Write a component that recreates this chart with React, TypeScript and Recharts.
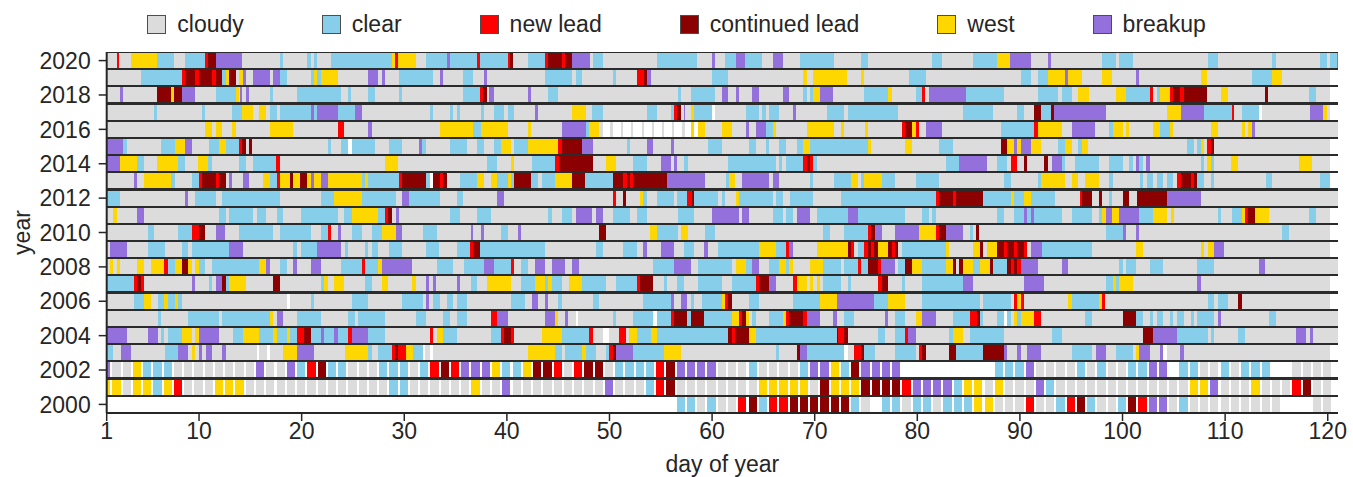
import React from "react";
import { BarChart, Bar, XAxis, YAxis, Cell, CartesianGrid, Legend, Label } from "recharts";

const FONT = '"Liberation Sans", Arial, Helvetica, sans-serif';
const INK = "#262626";

const CAT_KEYS = ["g", "b", "r", "d", "y", "p"];
const CAT_LABELS = ["cloudy", "clear", "new lead", "continued lead", "west", "breakup"];
const CAT_FILLS: Record<string, string> = {
  g: "#dcdcdc",
  b: "#87ceeb",
  r: "#ff0000",
  d: "#8b0000",
  y: "#ffd700",
  p: "#9370db",
  w: "#ffffff",
  n: "none",
};

const YEARS = [2020, 2019, 2018, 2017, 2016, 2015, 2014, 2013, 2012, 2011, 2010,
  2009, 2008, 2007, 2006, 2005, 2004, 2003, 2002, 2001, 2000];
const DAY_TICKS = [1, 10, 20, 30, 40, 50, 60, 70, 80, 90, 100, 110, 120];
const DAY_START = 1;
const DAY_END = 121;

// 2003-2020: letter = state, number = day it starts (runs to the next one)
const OBS_2020 = "g1 r1.97 g2.23 y3.34 b5.94 g7.56 b8.63 r10.58 d10.91 p11.62 g14.22 b17.89 g18.15 b20.49 g20.88 b21.2 g21.53 b22.86 y28.78 r29.1 y29.43 g31.12 b32.12 p34.14 b34.46 r37.06 b37.39 r40.08 d40.31 g40.64 b42.03 r43.72 d44.05 r45.35 d45.67 p46.39 g48.11 b48.37 g49.34 b54.61 g58.57 p59.97 g60.29 b61.27 p62.31 b63.22 g64.91 p65.91 g66.89 b68.58 g71.89 b74.51 g75.16 b81.47 g82.44 b85.4 y87.74 p89.04 g91.05 p92.71 g93.03 b98.04 g99.34 b99.69 g100.99 b108.3 g109.28 b114.61 g114.93 b119.25 g119.9 b120.23 p120.88";
const OBS_2019 = "g1 b4.31 r8.31 d8.63 r9.61 d9.99 r11.3 d11.62 b12.21 y12.6 d12.92 g13.6 y13.86 p14.25 g14.54 p15.23 g16.92 p17.24 b17.89 g18.54 b20.91 y21.17 b21.53 y21.85 g23.51 p26.5 g27.48 p27.87 g28.13 b29.49 g32.77 p33.49 g33.75 b35.76 g36.74 p37.81 g38.1 b43.72 g46.39 b46.71 g47.36 b50.32 g50.64 r52.66 d53.37 p53.7 g54.02 b59.97 g61.59 y68.9 g69.23 y69.88 g73.18 y74.51 g74.84 b79.19 g80.82 b90.08 g91.05 b91.8 y92.77 p94.4 y94.72 g96.02 y98.04 g99.01 p101.32 g101.64 y107.65 g108.27 b112.66 y114.61 g115.58 w120.23";
const OBS_2018 = "g1 p2.3 g2.62 d5.94 y7.24 d7.56 p8.31 g9.61 b11.62 y13.57 g13.9 p14.0 g14.22 p14.54 g14.87 b16.92 g17.24 b19.52 g23.84 b24.49 g24.81 b26.5 g27.15 b29.49 g29.82 b35.76 r37.39 d37.71 g38.04 p38.27 g38.75 p42.03 g42.36 b44.05 g45.02 b56.65 g56.95 b57.95 g60.29 p60.94 g61.59 p62.31 g62.63 p63.93 g64.58 p66.89 g67.54 b68.9 g69.23 b69.55 y69.88 p70.53 g71.83 b74.84 y77.18 g77.5 b79.84 r80.49 g80.75 p81.14 b84.75 g88.45 b91.8 g93.75 b94.07 g95.05 y95.7 g96.74 y99.34 b100.34 r102.68 g103.01 b103.33 y103.66 r104.63 d104.96 r105.61 d106 g108.27 y109.6 g110.25 d113.89 g114.22 b118.21 g118.86 w120.23";
const OBS_2017 = "g1 b5.61 g5.94 b10.32 g10.58 b13.25 y14.22 g15.23 y15.88 g16.49 b16.92 g17.57 b17.89 p20.91 b21.2 p21.53 b23.51 p25.2 g25.85 b32.51 g32.77 b34.46 g34.79 b35.11 g35.44 b37.45 g37.78 b38.75 g39.73 b40.08 g40.73 p42.75 g43.07 y46.39 g47.69 b48.34 g49.34 b53.7 g54.61 b56.0 r56.3 d56.62 g56.95 p57.27 g57.37 y57.95 b58.28 w59.97 g60.29 b63.28 g64.58 b64.91 g65.23 b65.59 g66.56 p67.86 g68.19 b71.24 g72.89 b73.21 g78.15 b84.42 g87.41 b89.75 g90.4 d91.41 b92.06 d93.03 p93.36 g98.36 y104.37 p105.67 b107.95 r110.64 g110.9 b111.62 w113.31 g113.57 p118.28 y119.58 g119.9 w120.23";
const OBS_2016 = "g1 y10.58 g11.3 y11.62 g12.27 y13.25 g13.57 y16.92 g19.19 r23.51 g24.16 p26.5 g26.83 y33.49 b36.74 y37.45 g40.08 y42.03 g42.36 p45.35 b47.69 y48.01 g49.02 w49.34 g50.06 w50.32 g51.1 w51.36 g52.07 w52.33 g53.15 w53.37 g54.12 w54.35 g55.1 w55.32 g56.07 w56.3 g57.11 w57.37 y57.95 w58.28 y58.6 g59.32 y60.94 g61.92 p63.28 g63.61 p64.26 b65.23 y65.91 g66.21 y69.23 g71.89 y72.56 g72.89 y74.9 g75.23 r78.48 d78.8 y79.52 r79.84 g80.17 p80.82 g82.44 b88.13 r91.41 y91.73 g94.07 p95.05 g97.32 b98.72 y99.04 g100.02 y100.34 g100.67 y103.01 b103.66 y104.63 g104.96 y108.63 g109.28 y111.62 g111.94 y112.27 p112.59 g112.92";
const OBS_2015 = "p1 b2.62 g2.95 b6.29 y7.66 p8.63 g9.28 b10.97 y11.95 b12.6 r13.9 d14.22 g14.54 d14.87 g15.2 b22.54 g22.86 b23.84 w24.49 b24.88 g27.15 b28.52 g29.82 p31.44 b31.77 g32.12 b34.46 g36.09 b37.13 g37.78 b38.75 y39.4 g40.38 b40.73 y42.03 r45.02 d45.35 p47.36 g48.37 b51.68 g52.01 p53.7 g54.28 p56.0 g56.3 b59.64 g60.94 b63.61 g64.26 b65.23 g65.56 b66.56 g67.21 b68.25 y68.9 b69.55 y75.16 g75.49 y78.8 g79.45 b82.12 g83.45 d88.13 y88.78 p89.43 y89.75 p90.08 y91.05 g92.03 b93.75 y94.4 g95.05 b95.7 y96.02 g96.67 b106.32 g106.97 b107.3 y107.62 g107.95 r108.27 d108.6 g108.92 w120.23";
const OBS_2014 = "p1 y2.3 b3.99 g4.64 y5.94 b7.92 g8.63 y9.93 b10.91 g11.3 b13.93 g14.54 b15.23 r17.5 g17.89 y28.13 g29.43 b38.1 g39.08 y40.38 g40.7 b42.42 r44.7 d45.09 g48.37 y49.67 g50.64 b52.33 g53.7 p55.0 g55.97 p56.3 g56.62 b57.3 g57.63 b61.59 g66.21 b66.53 g66.86 b67.21 r68.9 d69.23 r69.55 b69.88 g70.2 b82.8 p84.1 g86.76 b87.8 g88.78 r89.1 g89.75 d90.4 g90.73 d92.38 g92.71 p93.1 b94.07 g94.4 b95.37 g97.71 b98.72 g100.02 b100.67 g100.99 p101.32 b101.64 g101.97 p102.29 g102.68 b107.62 g107.95 y108.27 b108.6 g108.92 y110.58 g111.23 y117.2 g118.5 w120.23";
const OBS_2013 = "g1 p3.66 g3.99 y4.64 b7.27 g7.66 b9.28 r9.99 d10.32 r11.62 d11.95 g12.6 p12.92 g13.25 p14.25 g14.9 y16.2 b16.92 r17.57 y17.89 d18.87 y19.19 d19.84 y20.55 p20.88 y21.2 p21.85 y22.54 b25.85 y26.18 b26.5 r29.49 d29.82 b32.12 w32.51 d32.84 r33.49 d33.81 g34.14 b35.44 y37.06 g37.78 y38.43 b39.08 y40.08 b40.38 d40.73 b42.36 g43.01 b43.4 y44.7 d46.39 b47.62 d50.38 r51.36 d51.68 r52.01 d52.33 p55.65 g59.32 b61.33 y61.66 g62.24 p62.96 g65.59 p65.91 g66.56 b69.55 g69.88 b71.89 y73.54 g74.19 b74.51 y74.84 b76.53 g77.83 b79.84 g82.12 b88.45 g89.1 b91.8 y92.06 g94.4 y95.05 g95.7 y96.35 g97.71 b98.72 g99.04 b101.71 g102.03 b102.36 g103.01 b103.33 g103.98 b104.31 g104.96 r105.35 d105.67 r106.65 d106.97 b107.3 g107.95 b108.6 g108.92 b113.96 g114.61 b119.25 w120.23";
const OBS_2012 = "b1 g2.3 p8.63 g8.96 b9.61 g11.62 b12.27 g17.89 b21.89 y23.19 b25.85 g29.17 p29.82 b30.47 g33.49 b35.11 g35.76 p39.08 g39.73 r50.38 g50.64 d51.36 g51.62 y52.98 b53.31 g53.63 b54.61 g56.3 b56.62 r57.6 d58.02 b58.28 g60.62 b60.94 g61.27 y62.31 b62.63 g65.91 b66.24 g66.89 b67.6 g69.88 b72.56 r81.82 d82.15 r83.45 d83.77 b86.44 y89.1 b89.43 y90.43 b91.08 g93.42 r95.9 d96.09 g97.06 d97.71 g98.04 b98.72 g99.01 d100.02 g100.67 d101.38 p104.37 g107.62";
const OBS_2011 = "g1 y1.65 g1.97 p3.99 g4.64 b11.95 g12.6 b12.92 g15.23 b15.62 g16.53 b17.57 g18.22 b19.91 g23.51 b24.16 y24.88 b27.48 r28.13 d28.39 g28.78 p29.17 g29.49 b34.46 g35.44 b37.13 g38.43 b44.05 g44.37 b45.35 g46.39 p46.71 g48.34 p48.7 g49.34 b50.38 g52.01 b52.66 g53.63 b56.65 g58.28 p59.97 g62.63 p62.96 g63.61 b65.91 g66.89 b67.21 g67.93 p68.25 g69.55 b70.2 p73.21 b74.19 g78.8 b80.49 g81.14 b81.47 g81.79 b87.8 g88.45 b89.43 p90.4 b90.73 p91.05 b91.38 g94.07 b95.05 g97.06 b97.71 y98.04 p98.36 y99.01 p99.66 b101.64 y103.01 g104.37 y104.7 g105.02 b109.28 g109.6 b110.64 y111.62 r111.94 d112.27 y112.92 g114.28 b118.21 g118.86 w120.23";
const OBS_2010 = "g1 b4.99 g5.64 b7.98 r9.28 d9.99 g10.58 p11.62 g12.53 b13.93 g17.24 b17.89 g20.91 b21.89 r22.54 g22.86 p23.51 g23.84 b24.88 g25.85 b26.83 y27.87 p29.17 g29.82 b31.8 g33.16 p36.48 g36.74 p37.45 g37.78 b39.4 g40.08 p41.06 g41.38 d49.02 g49.67 y53.96 b54.61 g56.65 y56.98 g57.63 b59.32 g60.29 b70.85 g71.5 b72.89 r75.16 d75.49 p75.88 g76.53 p77.83 y80.17 r81.82 d82.15 p82.8 g84.42 b85.14 g85.4 d85.72 g86.05 b98.39 p100.02 g100.34 p101.32 g101.64 b115.58 g116.23 w120.23";
const OBS_2009 = "g1 p1.32 g3.01 b4.99 g6.68 b8.31 g8.96 b9.28 p12.92 g14.25 b19.19 g19.52 b19.91 p21.53 g23.84 b24.23 g24.49 b26.18 g26.5 b26.83 g27.48 b28.52 g29.82 b32.12 g33.42 b35.11 r36.41 d36.74 b37.39 g43.72 b48.7 g49.34 b51.36 g52.66 p53.31 g53.63 p55.0 g56.3 b57.3 g58.28 p59.25 g59.58 b60.62 y64.58 b66.21 r67.21 p67.54 g67.93 y70.2 d73.21 r73.54 g73.86 b74.19 r74.84 d75.16 r75.49 d75.81 y76.14 d77.18 r77.5 d77.83 g78.15 b78.48 y82.8 g83.12 y85.4 d86.11 g86.44 y86.76 d87.8 r88.45 d88.78 r89.43 d89.75 r90.4 g90.73 p91.05 b92.12 g97.06 y101.32 g101.97 y107.65 g107.95 y108.3 p108.95 g109.93 w120.23";
const OBS_2008 = "g1 y1.32 g1.65 y1.97 g2.3 y3.99 g4.64 y5.32 r6.62 b6.94 y7.66 d8.31 y8.96 g9.28 y9.61 b9.99 g10.58 b11.3 y15.88 p16.53 g16.92 b17.89 g18.54 p19.19 g19.52 p20.91 g21.89 b23.84 r25.85 b26.18 y27.48 p27.8 g30.79 b33.16 g34.79 b35.83 p37.78 b38.75 r40.41 g40.73 b41.38 g42.03 p42.75 g43.72 p44.37 g45.67 p46.39 g47.04 b54.28 p56.3 g57.95 b58.67 g61.98 y62.31 b63.28 p63.93 g64.58 b65.59 y66.56 b67.21 y67.54 g67.93 y69.55 b70.85 g72.56 b72.89 r74.19 b74.51 d75.16 r76.14 p76.46 g77.83 b78.15 d78.8 y79.52 b80.49 y82.8 d83.45 g83.77 d84.1 y84.42 b85.4 y86.11 d87.09 b87.41 d88.78 r89.1 d89.43 r89.75 p90.08 g91.73 p94.07 g94.72 b99.69 g100.02 b100.34 g101.32 b102.68 g103.98 b107.3 g108.95 p113.31 g113.89";
const OBS_2007 = "b1 r3.66 d3.99 r4.31 g4.64 p9.28 g9.61 b10.97 g11.3 p11.62 d12.27 b12.6 y12.92 g14.54 d17.24 g17.89 b21.89 y22.21 g22.54 y23.19 g24.16 b26.18 g26.83 y27.87 g28.45 y30.79 g31.12 p32.12 g32.45 p32.77 g33.1 p35.11 g35.44 b36.48 g37.13 y38.1 g40.38 b41.38 y42.75 b43.72 y44.05 b44.37 g45.35 y46.06 b47.36 g49.67 b50.64 r52.66 d52.98 g54.28 b55.32 g55.65 b56.62 g57.3 b58.6 g60.94 b61.98 r64.26 d64.58 p65.59 g66.24 r67.93 y68.25 g69.23 y69.55 g69.88 y70.2 g70.53 b70.85 g72.56 b73.21 g73.54 r76.2 d76.53 g77.18 b78.48 g78.8 b80.49 p84.49 g85.4 p90.43 g92.38 b98.39 y99.04 b99.37 y99.69 g100.99 p107.3 g107.62 w120.23";
const OBS_2006 = "g1 b3.66 y4.64 g5.32 b5.97 y6.62 b6.94 y7.66 b7.98 g8.31 w18.54 g18.87 b20.91 g21.2 b24.88 g26.5 b29.82 g31.8 p32.12 g32.45 b32.84 g33.49 b34.14 g34.79 b35.11 g36.09 b40.41 g41.77 p42.42 g43.07 p43.72 g44.05 b45.02 g45.35 b48.37 g49.02 b53.31 p55.97 g56.3 p56.95 g57.6 b57.95 g58.28 b58.99 y60.94 r61.27 d61.59 g61.92 b63.61 g64.58 b67.93 y70.53 p72.15 b75.81 y77.18 g78.8 b80.49 g86.11 b86.44 g89.1 r89.43 y89.75 r90.08 g90.4 y94.72 b95.05 y97.71 r97.97 g98.3 b108.3 g108.95 b109.28 g110.25 d111.29 g111.62 w120.23";
const OBS_2005 = "g1 b5.97 g6.29 b8.96 g11.95 b12.27 y16.92 g17.24 p17.57 g18.22 b19.58 g21.89 b24.55 g25.2 b25.53 g28.13 b31.15 g32.12 b33.81 g34.46 b35.11 g36.09 r38.43 p39.08 g40.08 p43.72 y44.7 g45.02 p45.67 g46.0 w46.71 g46.97 b50.38 g50.64 b52.33 w54.28 b54.61 r55.97 d56.3 b57.6 d57.92 b59.25 y61.92 r62.63 d62.96 y63.28 g63.61 b63.93 g64.26 b65.59 y66.89 r67.21 d67.54 r68.9 p69.23 g70.53 p71.83 g72.15 b72.89 g73.86 p76.85 g77.18 b77.83 g78.8 y79.84 p80.49 g81.82 b83.51 r85.14 d85.79 b86.11 g86.44 b87.8 w88.45 b88.78 g89.1 y89.43 b89.75 y90.08 r91.38 g92.06 b96.35 g97.06 d100.02 b101.32 g101.97 b102.68 g103.01 b103.33 g103.98 b104.63 g104.96 b105.28 g106.0 b106.65 g106.97 b107.3 g108.95 p109.28 g109.6 b114.28 g114.93";
const OBS_2004 = "p1 g3.01 p4.99 g5.97 b6.29 g6.62 b7.01 y8.31 g9.28 y9.61 p9.99 g11.95 b13.28 y14.25 b15.88 y17.24 b17.57 y18.54 b18.87 r19.58 d20.23 b20.88 p21.89 b22.21 p23.19 b23.51 r24.49 p24.88 b26.5 g28.13 r32.51 g32.84 y33.16 b33.81 g35.11 b38.43 r39.43 d39.76 r40.41 g40.73 y43.4 b45.41 r48.01 g48.37 w49.34 g50.0 r50.97 g51.62 y51.94 b52.66 y54.02 b54.61 d61.59 r61.92 d62.24 y63.61 b64.26 d72.15 r72.3 d72.89 g73.21 b76.2 g76.85 b77.83 r78.8 p79.13 g79.84 b83.12 y83.45 g84.42 b85.14 g88.45 b93.1 g94.07 d102.03 p103.01 b105.28 g108.3 b108.63 g108.95 b111.29 g111.94 p116.91 g117.89 p118.28 g118.54";
const OBS_2003 = "g1 b1.16 g1.65 p2.36 g3.34 b6.68 p7.98 g8.96 y9.28 g9.61 p9.99 g10.32 p10.65 g11.3 p12.27 g12.6 w15.62 g15.88 w16.59 g16.92 y18.22 p19.58 g21.2 y24.23 b26.5 g26.83 b27.48 r28.78 d29.1 r29.43 y30.14 b30.83 w31.8 g32.03 w32.51 g32.77 y42.1 b44.7 g45.35 b45.67 y47.36 b47.69 g48.7 b49.67 r50.0 d50.32 p50.64 b52.33 y55.32 g56.98 b66.24 g66.56 d68.25 p68.58 b69.23 w72.89 g73.21 r73.86 d74.51 b74.84 g75.88 b77.83 g79.84 r80.17 d80.49 g80.82 d83.12 b83.77 d86.44 p88.45 g88.78 p89.75 g90.08 p90.73 g92.06 b95.05 g97.06 p97.39 g98.36 b99.34 g100.99 y101.32 p101.64 g102.68 p103.66 w103.98 g104.31 p105.61 g106.0 w120.23";

// 2000-2002: one letter per day (days 1..121), sparse passes
const DAILY_2002 = "pggybbbggg" + "gggggpggpb" + "rdbbgggbbb" + "gbrdrpppyb" + "byddrgrddg" + "bbbbrdpppp" + "gggbggggbp" + "pybdppppww" + "wwwwwwwbbb" + "pggggbgbgg" + "bbppwbbggb" + "gbbbwwggggw";
const DAILY_2001 = "yygyybyrgg" + "gyyygggggg" + "ggggggggbb" + "ggggggyggp" + "gggggggggp" + "gggbrdgggg" + "ggggyyyyyg" + "dyyyddddrp" + "pppbyygygg" + "gpbggggggg" + "ggggggyypg" + "ggygggrdggw";
const DAILY_2000 = "wwwwwwwwww" + "wwwwwwwwww" + "wwwwwwwwww" + "wwwwwwwwww" + "wwwwwwwwww" + "wwwwwwbbgb" + "ggrdbrrddd" + "dddbgwbbgb" + "bgbbbyyggg" + "rggbrdbggb" + "drppgbgggg" + "gggggwwwggw";

const STARTS_BY_ROW = [OBS_2020, OBS_2019, OBS_2018, OBS_2017, OBS_2016, OBS_2015, OBS_2014,
  OBS_2013, OBS_2012, OBS_2011, OBS_2010, OBS_2009, OBS_2008, OBS_2007, OBS_2006, OBS_2005,
  OBS_2004, OBS_2003];
const DAILY_BY_ROW = [DAILY_2002, DAILY_2001, DAILY_2000];

type Seg = { c: string; s: number; e: number };

function fromStarts(str: string): Seg[] {
  const toks = str.trim().split(/\s+/)
    .map((t) => ({ c: t[0], s: parseFloat(t.slice(1)) }))
    .sort((a, b) => a.s - b.s);
  return toks.map((t, i) => ({ c: t.c, s: t.s, e: i < toks.length - 1 ? toks[i + 1].s : DAY_END }));
}

function fromDaily(str: string): Seg[] {
  const out: Seg[] = [];
  let prev = DAY_START;
  for (let i = 0; i < str.length; i++) {
    const d = i + 1;
    const s = Math.max(DAY_START, d - 0.45);
    const e = Math.min(DAY_END, d + 0.35);
    if (s > prev) out.push({ c: "w", s: prev, e: s });
    out.push({ c: str[i], s, e });
    prev = e;
  }
  if (prev < DAY_END) out.push({ c: "w", s: prev, e: DAY_END });
  return out;
}

// leading invisible piece so the stack starts at day 1
const segsByRow: Seg[][] = [
  ...STARTS_BY_ROW.map(fromStarts),
  ...DAILY_BY_ROW.map(fromDaily),
].map((segs) => [{ c: "n", s: 0, e: DAY_START }, ...segs]);

const maxSegs = Math.max(...segsByRow.map((s) => s.length));

const data = YEARS.map((year, j) => {
  const row: Record<string, number> = { year };
  for (let i = 0; i < maxSegs; i++) {
    const sg = segsByRow[j][i];
    row["v" + i] = sg ? sg.e - sg.s : 0;
  }
  return row;
});

function LegendContent() {
  return (
    <div style={{ display: "flex", justifyContent: "center", alignItems: "center",
      fontFamily: FONT, fontSize: 23, color: INK, lineHeight: "26px" }}>
      {CAT_KEYS.map((k, i) => (
        <div key={k} style={{ display: "flex", alignItems: "center", marginLeft: i ? 78 : 0 }}>
          <span style={{ display: "inline-block", width: 19, height: 19, background: CAT_FILLS[k],
            border: "1px solid #4d4d4d", boxSizing: "border-box", marginRight: 11 }} />
          <span>{CAT_LABELS[i]}</span>
        </div>
      ))}
    </div>
  );
}

export default function App() {
  const tickStyle = { fill: INK, fontSize: 23, fontFamily: FONT };
  return (
    <div style={{ position: "absolute", left: 0, top: 0 }}>
      <style>{".recharts-bar-rectangle path{shape-rendering:crispEdges}"}</style>
      <BarChart
        width={1353}
        height={477}
        data={data}
        layout="vertical"
        barCategoryGap={1}
        margin={{ top: 52, right: 15, bottom: 0, left: 6.7 }}
      >
        <CartesianGrid horizontal={false} vertical={false} fill="#2b2b2b" fillOpacity={1} />
        <XAxis
          type="number"
          domain={[DAY_START, DAY_END]}
          allowDataOverflow
          ticks={DAY_TICKS}
          height={64}
          tick={tickStyle}
          tickSize={8}
          tickMargin={2}
          tickLine={{ stroke: INK, strokeWidth: 1.5 }}
          axisLine={{ stroke: INK, strokeWidth: 2 }}
        >
          <Label
            content={({ viewBox }: any) => (
              <text x={viewBox.x + viewBox.width / 2} y={viewBox.y + 59} textAnchor="middle"
                fill={INK} fontSize={23} fontFamily={FONT}>day of year</text>
            )}
          />
        </XAxis>
        <XAxis xAxisId="top" orientation="top" type="number" domain={[DAY_START, DAY_END]}
          height={0} tick={false} tickLine={false} axisLine={{ stroke: INK, strokeWidth: 2 }} />
        <YAxis
          type="category"
          dataKey="year"
          interval={1}
          width={100}
          tick={tickStyle}
          tickSize={8}
          tickMargin={8}
          tickLine={{ stroke: INK, strokeWidth: 1.5 }}
          axisLine={{ stroke: INK, strokeWidth: 2 }}
        >
          <Label
            content={({ viewBox }: any) => {
              const cx = 30;
              const cy = viewBox.y + viewBox.height / 2;
              return (
                <text x={cx} y={cy} transform={`rotate(-90 ${cx} ${cy})`} textAnchor="middle"
                  fill={INK} fontSize={23} fontFamily={FONT}>year</text>
              );
            }}
          />
        </YAxis>
        <YAxis yAxisId="right" orientation="right" type="category" dataKey="year" width={0}
          tick={false} tickLine={false} axisLine={{ stroke: INK, strokeWidth: 2 }} />
        <Legend
          layout="horizontal"
          verticalAlign="middle"
          align="center"
          wrapperStyle={{ top: 11, left: 0, width: 1353 }}
          content={() => <LegendContent />}
        />
        {Array.from({ length: maxSegs }, (_, i) => (
          <Bar key={i} dataKey={"v" + i} stackId="days" isAnimationActive={false} legendType="none">
            {segsByRow.map((segs, j) => (
              <Cell key={j} fill={segs[i] ? CAT_FILLS[segs[i].c] : "none"} />
            ))}
          </Bar>
        ))}
      </BarChart>
    </div>
  );
}
